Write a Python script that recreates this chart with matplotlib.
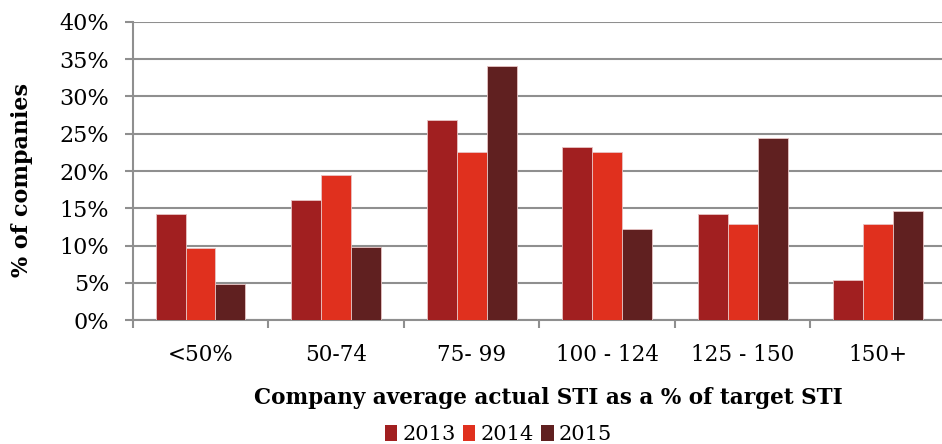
import matplotlib
matplotlib.use("Agg")
import matplotlib.pyplot as plt
import numpy as np
from matplotlib.patches import Patch

# STI payout distribution, share of companies per band
categories = ["<50%", "50-74", "75- 99", "100 - 124", "125 - 150", "150+"]
years = ["2013", "2014", "2015"]
pct_2013 = [14.3, 16.1, 26.8, 23.2, 14.3, 5.4]
pct_2014 = [9.7, 19.4, 22.6, 22.6, 12.9, 12.9]
pct_2015 = [4.9, 9.8, 34.1, 12.2, 24.4, 14.6]
colors = ["#A11F20", "#E0301E", "#602020"]

plt.rcParams["font.family"] = ["DejaVu Serif"]

fig = plt.figure(figsize=(9.42, 4.44), dpi=100)
ax = fig.add_axes([0.1409, 0.2786, 0.8634, 0.6725])

x = np.arange(len(categories))
w = 0.221
for i, (vals, c) in enumerate(zip([pct_2013, pct_2014, pct_2015], colors)):
    ax.bar(x + (i - 1) * w, vals, width=w, color=c,
           edgecolor="#e8c4c4", linewidth=0.6, zorder=3)

ax.set_xlim(-0.5, len(categories) - 0.5)
ax.set_ylim(0, 40)
ax.set_yticks(np.arange(0, 41, 5))
ax.set_yticklabels(["%d%%" % v for v in range(0, 41, 5)], fontsize=16)
ax.yaxis.grid(True, color="#8f8f8f", linewidth=1.5, zorder=0)
ax.tick_params(axis="y", length=6, width=1.5, color="#8f8f8f", pad=11)

# labels centred on categories, tick marks on the boundaries
ax.set_xticks(x)
ax.set_xticklabels(categories, fontsize=15.5)
ax.set_xticks(np.arange(-0.5, len(categories), 1.0), minor=True)
ax.tick_params(axis="x", which="major", length=0, pad=17)
ax.tick_params(axis="x", which="minor", length=6, width=1.5, color="#8f8f8f")

for side in ("top", "right"):
    ax.spines[side].set_visible(False)
ax.spines["left"].set_color("#8f8f8f")
ax.spines["left"].set_linewidth(1.5)
ax.spines["bottom"].set_color("#8f8f8f")
ax.spines["bottom"].set_linewidth(1.5)

ax.set_ylabel("% of companies", fontsize=16, fontweight="bold")
ax.yaxis.set_label_coords(-0.123, 0.47)
ax.set_xlabel("Company average actual STI as a % of target STI",
              fontsize=15.5, fontweight="bold")
ax.xaxis.set_label_coords(0.511, -0.225)

handles = [Patch(facecolor=c, label=y) for c, y in zip(colors, years)]
fig.legend(handles=handles, loc="center", bbox_to_anchor=(0.529, 0.022),
           ncol=3, frameon=False, fontsize=15, handlelength=0.6,
           handleheight=0.8, handletextpad=0.25, columnspacing=0.35)

fig.savefig("out.png", dpi=100)
